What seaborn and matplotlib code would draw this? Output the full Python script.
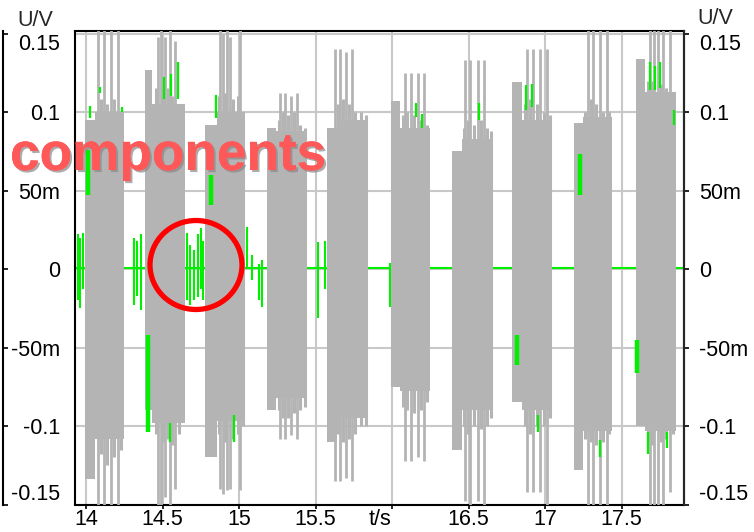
import matplotlib
matplotlib.use("Agg")
import matplotlib.pyplot as plt
import matplotlib.patheffects as pe
from matplotlib.patches import Ellipse
from matplotlib.transforms import ScaledTranslation
import numpy as np
import pandas as pd
import seaborn as sns

# ---------------- data ----------------
# grey signal: dense burst bodies (block at start, then body)
seg_t0 = [13.993, 14.059, 14.386, 14.431, 14.778, 14.856, 15.183, 15.242, 15.575, 15.641,
          15.993, 16.052, 16.392, 16.458, 16.784, 16.850, 17.190, 17.248, 17.595, 17.654]
seg_t1 = [14.059, 14.248, 14.431, 14.647, 14.856, 15.039, 15.242, 15.444, 15.641, 15.843,
          16.052, 16.248, 16.458, 16.654, 16.850, 17.046, 17.248, 17.438, 17.654, 17.856]
seg_hi = [0.095, 0.100, 0.127, 0.105, 0.092, 0.100, 0.090, 0.088, 0.090, 0.095,
          0.107, 0.090, 0.075, 0.083, 0.119, 0.095, 0.093, 0.097, 0.134, 0.113]
seg_lo = [-0.134, -0.108, -0.090, -0.098, -0.120, -0.097, -0.090, -0.082, -0.110, -0.095,
          -0.075, -0.078, -0.115, -0.090, -0.085, -0.090, -0.128, -0.103, -0.100, -0.103]

# grey signal: tall spikes
spike_t = [14.078, 14.118, 14.163, 14.209,
           14.471, 14.490, 14.516, 14.549, 14.582,
           14.876, 14.895, 14.922, 14.941, 15.007,
           15.268, 15.301, 15.340, 15.379,
           15.627, 15.660, 15.699, 15.739,
           16.085, 16.124, 16.170, 16.209,
           16.477, 16.510, 16.562, 16.601,
           16.882, 16.922, 16.967, 17.013,
           17.281, 17.314, 17.359, 17.405,
           17.686, 17.712, 17.739, 17.771, 17.817]
spike_hi = [0.152, 0.152, 0.152, 0.152,
            0.148, 0.152, 0.148, 0.152, 0.145,
            0.152, 0.150, 0.152, 0.148, 0.152,
            0.112, 0.112, 0.110, 0.112,
            0.140, 0.140, 0.138, 0.140,
            0.125, 0.125, 0.125, 0.125,
            0.133, 0.133, 0.133, 0.133,
            0.140, 0.140, 0.140, 0.140,
            0.152, 0.152, 0.152, 0.152,
            0.152, 0.152, 0.152, 0.152, 0.152]
spike_lo = [-0.152, -0.152, -0.152, -0.152,
            -0.150, -0.152, -0.145, -0.152, -0.140,
            -0.140, -0.143, -0.141, -0.140, -0.141,
            -0.108, -0.108, -0.106, -0.108,
            -0.135, -0.135, -0.133, -0.135,
            -0.122, -0.122, -0.120, -0.122,
            -0.148, -0.152, -0.148, -0.152,
            -0.142, -0.142, -0.142, -0.152,
            -0.152, -0.152, -0.152, -0.152,
            -0.152, -0.150, -0.152, -0.150, -0.142]

# grey signal: medium ridges that make the ragged burst edges
ridge_t = [14.10, 14.14, 14.185, 14.23,
           14.46, 14.50, 14.535, 14.565, 14.61,
           14.87, 14.91, 14.96, 14.99, 15.025,
           15.26, 15.29, 15.32, 15.36, 15.40, 15.43,
           15.65, 15.68, 15.72, 15.76, 15.80, 15.83,
           16.07, 16.10, 16.145, 16.19, 16.23,
           16.47, 16.495, 16.535, 16.58, 16.62, 16.645,
           16.87, 16.90, 16.945, 16.99, 17.03,
           17.26, 17.30, 17.335, 17.38, 17.42,
           17.67, 17.70, 17.755, 17.79, 17.835]
ridge_hi = [0.108, 0.105, 0.108, 0.100,
            0.115, 0.112, 0.115, 0.110, 0.105,
            0.110, 0.112, 0.108, 0.110, 0.100,
            0.095, 0.100, 0.098, 0.100, 0.092, 0.090,
            0.105, 0.108, 0.105, 0.100, 0.100, 0.098,
            0.098, 0.100, 0.098, 0.095, 0.092,
            0.090, 0.095, 0.092, 0.095, 0.090, 0.088,
            0.105, 0.108, 0.105, 0.100, 0.098,
            0.100, 0.108, 0.105, 0.100, 0.100,
            0.120, 0.120, 0.118, 0.115, 0.110]
ridge_lo = [-0.118, -0.125, -0.120, -0.115,
            -0.105, -0.110, -0.108, -0.112, -0.105,
            -0.105, -0.110, -0.108, -0.105, -0.100,
            -0.090, -0.095, -0.095, -0.092, -0.090, -0.088,
            -0.105, -0.110, -0.108, -0.105, -0.100, -0.100,
            -0.088, -0.090, -0.092, -0.090, -0.085,
            -0.100, -0.105, -0.100, -0.102, -0.100, -0.095,
            -0.100, -0.105, -0.100, -0.100, -0.095,
            -0.108, -0.110, -0.112, -0.110, -0.105,
            -0.110, -0.112, -0.110, -0.108, -0.105]

# green signal: baseline
green_base_t = [13.928, 17.908]
green_base_v = [0.0008, 0.0008]

# green signal: spikes in the gaps between bursts
gap_t = [13.948, 13.961, 13.980, 14.314, 14.333, 14.359, 14.660, 14.680, 14.706, 14.732,
         14.752, 14.765, 15.052, 15.085, 15.131, 15.150, 15.516, 15.562, 15.987]
gap_hi = [0.022, 0.020, 0.023, 0.020, 0.018, 0.022, 0.023, 0.015, 0.012, 0.022,
          0.026, 0.018, 0.027, 0.009, 0.003, 0.006, 0.017, 0.018, 0.004]
gap_lo = [-0.020, -0.025, -0.013, -0.023, -0.017, -0.026, -0.020, -0.023, -0.020, -0.018,
          -0.013, -0.020, 0.000, -0.007, -0.020, -0.024, -0.031, -0.013, -0.024]

# green signal: wide patches visible inside the bursts
patch_t = [14.013, 14.405, 14.817, 16.817, 17.229, 17.601]
patch_hi = [0.076, -0.042, 0.060, -0.042, 0.073, -0.045]
patch_lo = [0.047, -0.104, 0.041, -0.061, 0.047, -0.066]

# green signal: thin peaks visible above/below the burst bodies
peak_t = [14.026, 14.092, 14.235, 14.510, 14.556, 14.601, 14.549, 14.850, 14.967,
          16.157, 16.196, 16.569, 16.876, 16.915, 16.954, 17.359,
          17.686, 17.719, 17.752, 17.843, 17.673, 17.797]
peak_hi = [0.104, 0.116, 0.103, 0.122, 0.124, 0.132, -0.098, 0.111, -0.093,
           0.106, 0.099, 0.106, 0.117, 0.118, -0.093, -0.109,
           0.132, 0.129, 0.132, 0.101, -0.104, -0.104]
peak_lo = [0.096, 0.112, 0.100, 0.108, 0.110, 0.108, -0.110, 0.096, -0.110,
           0.097, 0.090, 0.095, 0.101, 0.103, -0.104, -0.120,
           0.114, 0.114, 0.115, 0.092, -0.118, -0.114]

x_ticks = [14.0, 14.5, 15.0, 15.5, 16.0, 16.5, 17.0, 17.5]
x_labels = ["14", "14.5", "15", "15.5", "t/s", "16.5", "17", "17.5"]
y_ticks = [0.15, 0.1, 0.05, 0.0, -0.05, -0.1, -0.15]
y_labels = ["0.15", "0.1", "50m", "0", "-50m", "-0.1", "-0.15"]
unit_y = "U/V"
overlay_text = "components"

# ---------------- styling ----------------
GREY = "#b4b4b4"
GREEN = "#00f000"
GRID = "#c8c8c8"
FS = 15.5

sns.set_theme(style="white")
plt.rcParams["font.family"] = ["Liberation Sans", "DejaVu Sans"]
plt.rcParams["axes.linewidth"] = 1.5

W, H = 754, 532
fig = plt.figure(figsize=(W / 100, H / 100), dpi=100)
ax = fig.add_axes([75 / W, 1 - 505 / H, (684 - 75) / W, (505 - 31) / H])

# green baseline
sns.lineplot(x=green_base_t, y=green_base_v, color=GREEN, lw=1.5, ax=ax, zorder=2)
ax.vlines(gap_t, gap_lo, gap_hi, colors=GREEN, lw=1.5, zorder=2)

# grey bursts
seg_t0a = np.array(seg_t0)
ax.bar(seg_t0a, np.array(seg_hi) - np.array(seg_lo), bottom=seg_lo,
       width=np.array(seg_t1) - seg_t0a, align="edge", color=GREY, linewidth=0, zorder=3)
ax.vlines(ridge_t, ridge_lo, ridge_hi, colors=GREY, lw=2.2, zorder=3)
ax.vlines(spike_t, spike_lo, spike_hi, colors=GREY, lw=2.0, zorder=3)

# visible green parts inside bursts
ax.vlines(patch_t, patch_lo, patch_hi, colors=GREEN, lw=3.2, zorder=4)
ax.vlines(peak_t, peak_lo, peak_hi, colors=GREEN, lw=1.6, zorder=4)

ax.set_xlim(13.928, 17.908)
ax.set_ylim(-0.1503, 0.1516)

# grid
ax.set_axisbelow(True)
ax.grid(True, color=GRID, lw=1.5)

# x axis
ax.set_xticks(x_ticks, x_labels, fontsize=FS)
ax.tick_params(axis="x", direction="out", length=3, width=1.2, pad=0, bottom=True, colors="black")
ax.set_xlabel("")
ax.set_ylabel("")
ts_label = ax.xaxis.get_major_ticks()[4].label1
ts_label.set_transform(ts_label.get_transform() + ScaledTranslation(-0.12, 0, fig.dpi_scale_trans))

# left: outer line with inward ticks, labels in between
ax.spines["left"].set_position(("outward", 51.5))
ax.set_yticks(y_ticks, y_labels, fontsize=FS)
ax.tick_params(axis="y", direction="in", length=3.6, width=1.2, pad=-40.7, left=True,
               colors="black")
for t in ax.yaxis.get_major_ticks():
    t.label1.set_horizontalalignment("right")
ticks_l = ax.yaxis.get_major_ticks()
ticks_l[0].label1.set_verticalalignment("top")
ticks_l[-1].label1.set_verticalalignment("bottom")

# inner left frame line
ax.plot([0, 0], [0, 1], transform=ax.transAxes, color="black", lw=1.5, clip_on=False, zorder=6)

# right axis
ax2 = ax.twinx()
ax2.set_ylim(ax.get_ylim())
ax2.set_yticks(y_ticks, y_labels, fontsize=FS)
ax2.tick_params(axis="y", direction="out", length=3.6, width=1.2, pad=7, right=True,
                colors="black")
for s in ["left", "top", "bottom"]:
    ax2.spines[s].set_visible(False)
ax2.spines["right"].set_linewidth(1.5)
ticks_r = ax2.yaxis.get_major_ticks()
ticks_r[0].label2.set_verticalalignment("top")
ticks_r[-1].label2.set_verticalalignment("bottom")
ax2.grid(False)

for s in ["top", "bottom", "right"]:
    ax.spines[s].set_color("black")
    ax.spines[s].set_linewidth(1.5)
ax.spines["left"].set_color("black")

# unit labels
fig.text(35 / W, 1 - 20 / H, unit_y, ha="center", va="center", fontsize=FS)
fig.text(715 / W, 1 - 18 / H, unit_y, ha="center", va="center", fontsize=FS)

# overlay annotation
fig.text(10 / W, 1 - 170 / H, overlay_text, ha="left", va="baseline", fontsize=38.3,
         fontweight="bold", color="#ff5858", zorder=10,
         path_effects=[pe.withSimplePatchShadow(offset=(1.5, -1.5), shadow_rgbFace="#888888",
                                                alpha=0.7), pe.Normal()])
fig.add_artist(Ellipse((196 / W, 1 - 265 / H), width=92 / W, height=89 / H,
                       transform=fig.transFigure, fill=False, ec="#ff0000", lw=3.8, zorder=10))

fig.savefig("out.png", dpi=100)
